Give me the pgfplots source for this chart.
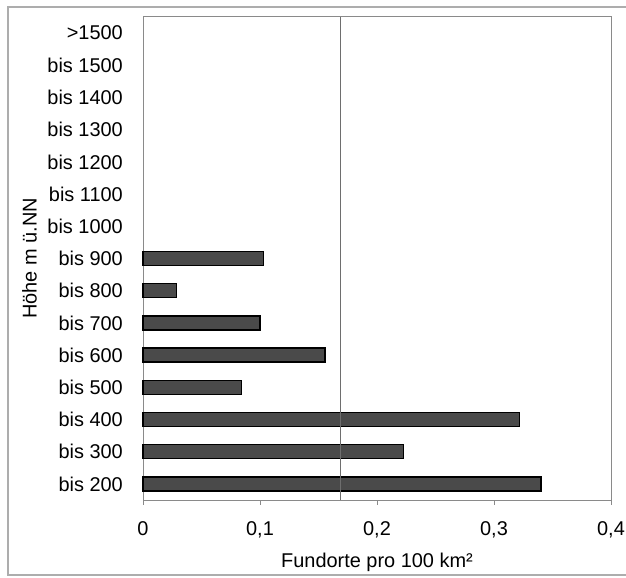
\documentclass[border=0pt]{standalone}
\usepackage{fontspec}
\setmainfont{Liberation Sans}
\usepackage{pgfplots}
\pgfplotsset{compat=1.18}
\definecolor{barfill}{HTML}{4A4A4A}
\definecolor{axgray}{HTML}{8A8A8A}
\begin{document}
\begin{tikzpicture}
\useasboundingbox (0,0) rectangle (626bp,578bp);
\draw[axgray!70, line width=1.2bp] (626bp,571bp) -- (8bp,571bp) -- (8bp,3bp) -- (626bp,3bp);
\begin{axis}[
  at={(143bp,78bp)}, anchor=south west,
  scale only axis, width=468bp, height=483bp,
  xmin=0, xmax=0.4, ymin=-0.5, ymax=14.5,
  xtick={0,0.1,0.2,0.3,0.4},
  ytick={0,...,14},
  yticklabels={bis 200,bis 300,bis 400,bis 500,bis 600,bis 700,bis 800,bis 900,bis 1000,bis 1100,bis 1200,bis 1300,bis 1400,bis 1500,>1500},
  /pgf/number format/assume math mode=true,
  /pgf/number format/use comma,
  /pgf/number format/fixed,
  font=\fontsize{20}{24}\selectfont,
  tick label style={font=\fontsize{20}{24}\selectfont},
  label style={font=\fontsize{20}{24}\selectfont},
  axis line style={axgray, line width=1bp},
  xtick pos=bottom, ytick pos=left,
  tick align=outside,
  x tick style={axgray, line width=1bp},
  y tick style={draw=none},
  major tick length=5bp,
  yticklabel style={anchor=east, inner sep=0pt, xshift=-15bp},
  xticklabel style={anchor=north, inner sep=0pt, yshift=-16bp},
  xlabel={Fundorte pro 100 km²},
  ylabel={Höhe m ü.NN},
  xlabel style={at={(axis description cs:0.5,-0.1097)}, anchor=north, inner sep=0pt},
  ylabel style={at={(axis description cs:-0.2265,0.5)}, anchor=south, inner sep=0pt},
  xbar, bar width=14bp,
  clip=false,
]
\addplot[xbar, fill=barfill, draw=black, line width=1.4bp] coordinates {
  (0.340,0) (0.2225,1) (0.322,2) (0.0843,3) (0.1556,4) (0.100,5) (0.0288,6) (0.1028,7)
};
\addplot[sharp plot, no marks, draw=axgray!80!black, line width=1bp, forget plot] coordinates {(0.169,-0.5) (0.169,14.5)};
\end{axis}
\end{tikzpicture}
\end{document}
